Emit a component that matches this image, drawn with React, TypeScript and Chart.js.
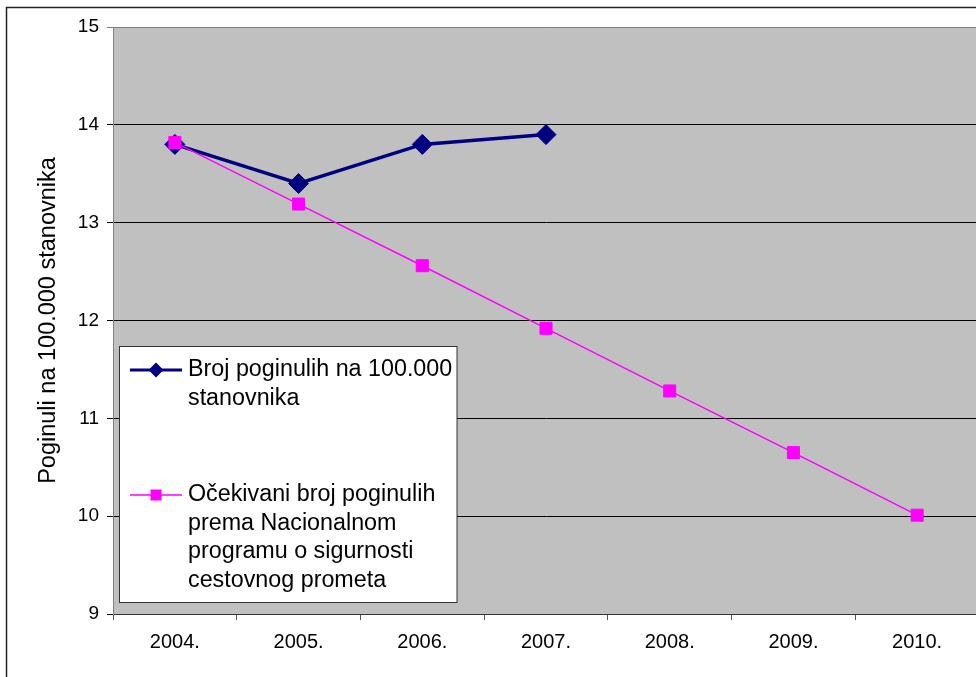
import React, { useEffect, useRef } from "react";
import { Chart, registerables } from "chart.js";

Chart.register(...registerables);

const categories = ["2004.", "2005.", "2006.", "2007.", "2008.", "2009.", "2010."];
const actualValues = [13.8, 13.4, 13.8, 13.9, null, null, null];
const expectedValues = [13.82, 13.19, 12.56, 11.92, 11.28, 10.65, 10.01];
const actualLabel = ["Broj poginulih na 100.000", "stanovnika"];
const expectedLabel = ["Očekivani broj poginulih", "prema Nacionalnom", "programu o sigurnosti", "cestovnog prometa"];
const yTitle = "Poginuli na 100.000 stanovnika";
const yMin = 9;
const yMax = 15;

const FONT = "'Liberation Sans', Arial, sans-serif";

const frame = {
  id: "frame",
  beforeDraw(chart: any) {
    const { ctx, chartArea } = chart;
    ctx.save();
    ctx.fillStyle = "#ffffff";
    ctx.fillRect(0, 0, chart.width, chart.height);
    ctx.fillStyle = "#c0c0c0";
    ctx.fillRect(chartArea.left, chartArea.top, chartArea.right - chartArea.left, chartArea.bottom - chartArea.top);
    ctx.strokeStyle = "#222";
    ctx.lineWidth = 1.5;
    ctx.beginPath();
    ctx.moveTo(6.5, chart.height + 5);
    ctx.lineTo(6.5, 7.5);
    ctx.lineTo(chart.width + 5, 7.5);
    ctx.stroke();
    ctx.restore();
  },
};

const legendBox = {
  id: "legendBox",
  afterDraw(chart: any) {
    const { ctx } = chart;
    const ds = chart.data.datasets;
    ctx.save();
    ctx.fillStyle = "#fff";
    ctx.fillRect(119.5, 346.5, 337.5, 256);
    ctx.strokeStyle = "#333";
    ctx.lineWidth = 1;
    ctx.strokeRect(119.5, 346.5, 337.5, 256);
    ctx.font = `23.3px ${FONT}`;
    ctx.fillStyle = "#000";
    ctx.textBaseline = "alphabetic";
    const entries = [
      { lines: actualLabel, y: 370, base: 376, d: ds[0] },
      { lines: expectedLabel, y: 495, base: 501, d: ds[1] },
    ];
    entries.forEach((e, i) => {
      ctx.strokeStyle = e.d.borderColor;
      ctx.lineWidth = i === 0 ? 3 : 1.5;
      ctx.beginPath();
      ctx.moveTo(130, e.y);
      ctx.lineTo(182, e.y);
      ctx.stroke();
      ctx.fillStyle = e.d.backgroundColor;
      if (i === 0) {
        ctx.beginPath();
        ctx.moveTo(156, e.y - 7.5);
        ctx.lineTo(163.5, e.y);
        ctx.lineTo(156, e.y + 7.5);
        ctx.lineTo(148.5, e.y);
        ctx.closePath();
        ctx.fill();
      } else {
        ctx.fillRect(150.5, e.y - 5.5, 11, 11);
      }
      ctx.fillStyle = "#000";
      e.lines.forEach((t: string, k: number) => {
        ctx.fillText(t, 188, e.base + k * 28.6);
      });
    });
    ctx.restore();
  },
};

export default function App() {
  const ref = useRef<HTMLCanvasElement>(null);
  useEffect(() => {
    document.body.style.margin = "0";
    const chart = new Chart(ref.current!, {
      type: "line",
      data: {
        labels: categories,
        datasets: [
          {
            label: actualLabel.join(" "),
            data: actualValues,
            borderColor: "#000080",
            backgroundColor: "#000080",
            borderWidth: 3.5,
            pointStyle: "rectRot",
            pointRadius: 10,
            pointBorderWidth: 1,
            pointBorderColor: "#000080",
            pointBackgroundColor: "#000080",
            order: 1,
            spanGaps: false,
          },
          {
            label: expectedLabel.join(" "),
            data: expectedValues,
            borderColor: "#ff00ff",
            backgroundColor: "#ff00ff",
            borderWidth: 1.5,
            pointStyle: "rect",
            pointRadius: 8.5,
            pointBorderWidth: 1,
            pointBorderColor: "#ff00ff",
            pointBackgroundColor: "#ff00ff",
            order: 0,
          },
        ],
      },
      options: {
        animation: false,
        responsive: false,
        maintainAspectRatio: false,
        layout: { padding: { top: 27, right: 9, bottom: 0, left: 0 } },
        plugins: { legend: { display: false }, tooltip: { enabled: false } },
        elements: { line: { tension: 0 } },
        scales: {
          x: {
            offset: true,
            afterFit: (s: any) => { s.height = 63; },
            grid: { display: true, drawOnChartArea: false, offset: true, tickLength: 6, color: "#555" },
            border: { display: true, color: "#333", width: 1 },
            ticks: { color: "#000", font: { family: FONT, size: 20 }, padding: 10, maxRotation: 0 },
          },
          y: {
            min: yMin,
            max: yMax,
            afterFit: (s: any) => { s.width = 113; },
            grid: {
              color: (c: any) => (c.tick && c.tick.value === yMax ? "#808080" : "#000"),
              tickLength: 6,
              lineWidth: 1,
            },
            border: { display: true, color: "#808080", width: 1 },
            ticks: { stepSize: 1, color: "#000", font: { family: FONT, size: 19 }, padding: 8 },
            title: {
              display: true,
              text: yTitle,
              color: "#000",
              font: { family: FONT, size: 23.5 },
              padding: { top: 34, bottom: 0 },
            },
          },
        },
      },
      plugins: [frame, legendBox],
    });
    return () => chart.destroy();
  }, []);
  return (
    <div style={{ width: 976, height: 677, overflow: "hidden", position: "relative" }}>
      <canvas ref={ref} width={990} height={677} style={{ display: "block", width: 990, height: 677 }} />
    </div>
  );
}
